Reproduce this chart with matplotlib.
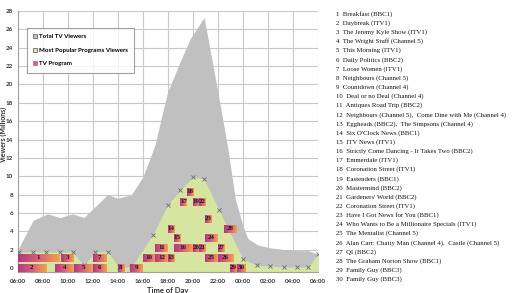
import numpy as np
import matplotlib
matplotlib.use("Agg")
import matplotlib.pyplot as plt
from matplotlib.patches import Patch
from matplotlib.colors import LinearSegmentedColormap

# ---------------- data ----------------
total_hours = [6.0, 7.25, 8.4, 9.4, 10.4, 11.3, 12.3, 13.2, 14.0, 15.1, 16.0, 16.6, 17.0, 17.6,
               18.0, 19.0, 19.8, 20.9, 22.0, 22.8, 23.4, 24.0, 24.4, 25.2, 26.2, 27.3, 28.3, 29.2, 30.0]
total_viewers = [1.9, 5.2, 5.9, 5.5, 5.9, 5.5, 6.8, 8.0, 7.6, 8.0, 9.9, 12.0, 13.5, 17.0,
                 19.2, 22.5, 25.0, 27.3, 19.2, 13.0, 7.5, 4.6, 3.2, 2.5, 2.2, 2.0, 1.9, 1.9, 1.5]

popular_hours = [6.1, 7.2, 8.3, 9.4, 10.4, 11.3, 12.2, 13.2, 14.1, 15.1, 16.8, 18.0, 19.0, 20.0,
                 20.9, 22.1, 24.0, 25.1, 26.2, 27.3, 28.3, 29.2, 30.0]
popular_viewers = [1.75, 1.75, 1.75, 1.75, 1.75, 0.3, 1.75, 1.75, 0.1, 0.1, 3.6, 6.9, 8.5, 9.9,
                   9.7, 6.3, 1.0, 0.3, 0.2, 0.1, 0.1, 0.1, 1.5]

prog_num = list(range(1, 31))
prog_start = [6.0, 6.0, 9.5, 9.0, 10.5, 12.0, 12.0, 14.0, 15.0, 16.0, 17.0, 17.0, 18.0, 18.0, 18.5,
              18.5, 19.0, 19.5, 20.0, 20.0, 20.5, 20.5, 21.0, 21.0, 21.0, 22.0, 22.0, 22.5, 23.0, 23.5]
prog_end = [9.3, 8.3, 10.5, 10.5, 12.0, 13.1, 13.1, 14.5, 16.0, 17.0, 18.0, 18.0, 18.5, 18.5, 19.0,
            20.0, 19.5, 20.0, 20.5, 20.5, 21.0, 21.0, 21.5, 22.0, 22.0, 23.2, 22.5, 23.5, 23.5, 24.2]
prog_level = [1.1, 0.0, 1.1, 0.0, 0.0, 0.0, 1.1, 0.0, 0.0, 1.1, 2.1, 1.1, 1.1, 4.2, 3.2,
              2.1, 7.2, 8.2, 7.2, 2.1, 2.1, 7.2, 5.3, 3.2, 1.1, 1.1, 2.1, 4.2, 0.0, 0.0]

prog_names = [
    "Breakfast (BBC1)", "Daybreak (ITV1)", "The Jeremy Kyle Show (ITV1)",
    "The Wright Stuff (Channel 5)", "This Morning (ITV1)", "Daily Politics (BBC2)",
    "Loose Women (ITV1)", "Neighbours (Channel 5)", "Countdown (Channel 4)",
    "Deal or no Deal (Channel 4)", "Antiques Road Trip (BBC2)",
    "Neighbours (Channel 5),  Come Dine with Me (Channel 4)",
    "Eggheads (BBC2),  The Simpsons (Channel 4)", "Six O'Clock News (BBC1)",
    "ITV News (ITV1)", "Strictly Come Dancing - It Takes Two (BBC2)", "Emmerdale (ITV1)",
    "Coronation Street (ITV1)", "Eastenders (BBC1)", "Mastermind (BBC2)",
    "Gardeners' World (BBC2)", "Coronation Street (ITV1)", "Have I Got News for You (BBC1)",
    "Who Wants to Be a Millionaire Specials (ITV1)", "The Mentalist (Channel 5)",
    "Alan Carr: Chatty Man (Channel 4),  Castle (Channel 5)", "QI (BBC2)",
    "The Graham Norton Show (BBC1)", "Family Guy (BBC3)", "Family Guy (BBC3)",
]

tick_hours = list(range(6, 31, 2))
tick_labels = ["06:00", "08:00", "10:00", "12:00", "14:00", "16:00", "18:00",
               "20:00", "22:00", "00:00", "02:00", "04:00", "06:00"]
y_ticks = list(range(0, 29, 2))

# ---------------- figure ----------------
W, H = 518, 293
fig = plt.figure(figsize=(W / 100, H / 100), dpi=100)
ymin, ymax = -0.4, 28.0
ax_left, ax_right, ax_bot, ax_top = 17.5, 318.0, 271.7, 11.0
ax = fig.add_axes([ax_left / W, (H - ax_bot) / H, (ax_right - ax_left) / W, (ax_bot - ax_top) / H])

grid_c = "#c8c8c8"
for t in tick_hours:
    ax.axvline(t, color=grid_c, lw=0.8, zorder=0)
for yv in y_ticks:
    ax.axhline(yv, color=grid_c, lw=0.8, zorder=0)

grey = "#c0c0c0"
green = "#d6e5a0"
ax.fill_between(total_hours, ymin, total_viewers, color=grey, lw=0, zorder=1)
ax.fill_between([6.0] + popular_hours, ymin, [popular_viewers[0]] + popular_viewers,
                color=green, lw=0, zorder=2)
ax.plot(popular_hours, popular_viewers, ls="none", marker="x", ms=2.2, mew=0.6,
        color="#6a6a6a", zorder=3)

cmap = LinearSegmentedColormap.from_list("prog", ["#b03a80", "#d8607a", "#f2a24e"])
grad = np.linspace(0, 1, 64).reshape(1, -1)
box_h = 0.8
for n, s, e, lv in zip(prog_num, prog_start, prog_end, prog_level):
    ax.imshow(grad, cmap=cmap, extent=[s, e, lv - box_h / 2, lv + box_h / 2],
              aspect="auto", zorder=4, interpolation="bilinear")
    ax.text((s + e) / 2, lv + 0.1, str(n), ha="center", va="center", fontsize=5.0,
            fontweight="bold", family="Liberation Serif", color="#1a1a1a", zorder=5)

ax.set_xlim(6, 30)
ax.set_ylim(ymin, ymax)
ax.set_xticks(tick_hours)
ax.set_xticklabels(tick_labels)
ax.set_yticks(y_ticks)
ax.tick_params(axis="both", length=0, labelsize=4.5, colors="#333333")
ax.tick_params(axis="x", pad=5.5)
ax.tick_params(axis="y", pad=3)
for lab in ax.get_xticklabels() + ax.get_yticklabels():
    lab.set_fontweight("bold")
    lab.set_family("Lato")
for sp in ["top", "right"]:
    ax.spines[sp].set_visible(False)
for sp in ["left", "bottom"]:
    ax.spines[sp].set_color("#a0a0a0")
    ax.spines[sp].set_linewidth(0.8)

# legend
handles = [Patch(facecolor=grey, edgecolor="#555555", lw=0.5),
           Patch(facecolor=green, edgecolor="#555555", lw=0.5),
           Patch(facecolor="#d0607a", edgecolor="#d0607a", lw=0.5)]
labels = ["Total TV Viewers", "Most Popular Programs Viewers", "TV Program"]
leg = ax.legend(handles, labels, loc="upper left",
                bbox_to_anchor=((27 - ax_left) / (ax_right - ax_left), (ax_bot - 28) / (ax_bot - ax_top)),
                prop={"family": "Lato", "weight": "bold", "size": 4.4},
                handlelength=0.7, handleheight=0.7, handletextpad=0.3, labelspacing=1.35,
                borderpad=1.0, borderaxespad=0, frameon=True, fancybox=False)
leg.get_frame().set_edgecolor("#8a8a8a")
leg.get_frame().set_linewidth(0.8)
leg.set_zorder(6)

# axis labels (partly cut off as in the reference)
fig.text(3 / W, 1 - 135 / H, "Viewers (Millions)", rotation=90, ha="center", va="center",
         fontsize=5, fontweight="bold", family="Lato", color="#333333")
fig.text(168 / W, 1 - 291 / H, "Time of Day", ha="center", va="center",
         fontsize=5.5, fontweight="bold", family="Lato", color="#333333")

# programme list on the right
for i, (n, name) in enumerate(zip(prog_num, prog_names)):
    y_px = 14 + i * 9.15
    fig.text(336 / W, 1 - y_px / H, f"{n}  {name}", ha="left", va="center",
             fontsize=4.9, family="Liberation Serif", color="#111111")

fig.savefig("out.png", dpi=100)
